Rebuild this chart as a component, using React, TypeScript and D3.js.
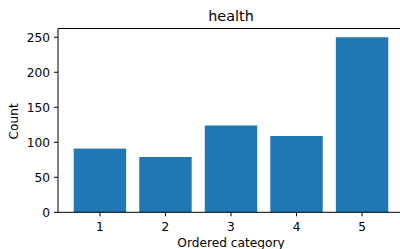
import React from "react";
import * as d3 from "d3";

const categories = [1, 2, 3, 4, 5];
const counts = [91, 79, 124, 109, 250];
const yTicks = [0, 50, 100, 150, 200, 250];
const title = "health";
const xLabel = "Ordered category";
const yLabel = "Count";

export default function App() {
  const W = 400, H = 249;
  const left = 58, right = 404, top = 28.5, bottom = 212.3;
  const x = d3.scaleLinear().domain([0.36, 5.64]).range([left, right]);
  const y = d3.scaleLinear().domain([0, 262.5]).range([bottom, top]);
  const bw = x(1.4) - x(0.6);
  const font = "DejaVu Sans, sans-serif";
  const fs = 12.2;
  return (
    <svg width={W} height={H} style={{ position: "fixed", left: 0, top: 0, background: "#fff" }} fontFamily={font}>
      <rect x={0} y={0} width={W} height={H} fill="#fff" />
      {categories.map((c, i) => (
        <rect key={c} x={x(c) - bw / 2} y={y(counts[i])} width={bw} height={y(0) - y(counts[i])} fill="#1f77b4" />
      ))}
      {/* spines */}
      <line x1={left} x2={left} y1={top} y2={bottom} stroke="#000" strokeWidth={1} />
      <line x1={left} x2={right} y1={top} y2={top} stroke="#000" strokeWidth={1} />
      <line x1={left} x2={right} y1={bottom} y2={bottom} stroke="#000" strokeWidth={1} />
      <line x1={right} x2={right} y1={top} y2={bottom} stroke="#000" strokeWidth={1} />
      {yTicks.map((t) => (
        <g key={t}>
          <line x1={left - 4} x2={left} y1={y(t)} y2={y(t)} stroke="#000" strokeWidth={1} />
          <text x={left - 8} y={y(t)} dy="0.35em" textAnchor="end" fontSize={fs} fill="#000">{t}</text>
        </g>
      ))}
      {categories.map((c) => (
        <g key={c}>
          <line x1={x(c)} x2={x(c)} y1={bottom} y2={bottom + 4} stroke="#000" strokeWidth={1} />
          <text x={x(c)} y={bottom + 18.5} textAnchor="middle" fontSize={fs} fill="#000">{c}</text>
        </g>
      ))}
      <text x={(left + right) / 2} y={246.5} textAnchor="middle" fontSize={fs} fill="#000">{xLabel}</text>
      <text transform={`translate(18, ${(top + bottom) / 2 + 1}) rotate(-90)`} textAnchor="middle" fontSize={fs} fill="#000">{yLabel}</text>
      <text x={(left + right) / 2} y={21} textAnchor="middle" fontSize={14.4} fill="#000">{title}</text>
    </svg>
  );
}
